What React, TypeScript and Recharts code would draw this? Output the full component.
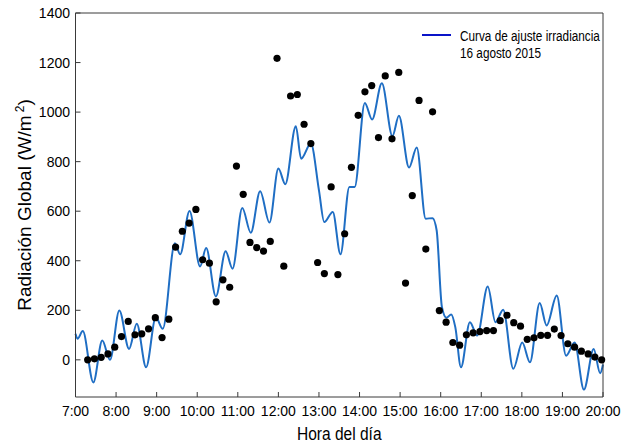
import { ComposedChart, Line, Scatter, XAxis, YAxis, Legend } from 'recharts';

// Irradiancia medida (W/m2), una lectura cada 10 minutos
const medTimes = [
  '7:18', '7:28', '7:38', '7:48', '7:58', '8:08', '8:18', '8:28', '8:38', '8:48',
  '8:58', '9:08', '9:18', '9:28', '9:38', '9:48', '9:58', '10:08', '10:18', '10:28',
  '10:38', '10:48', '10:58', '11:08', '11:18', '11:28', '11:38', '11:48', '11:58', '12:08',
  '12:18', '12:28', '12:38', '12:48', '12:58', '13:08', '13:18', '13:28', '13:38', '13:48',
  '13:58', '14:08', '14:18', '14:28', '14:38', '14:48', '14:58', '15:08', '15:18', '15:28',
  '15:38', '15:48', '15:58', '16:08', '16:18', '16:28', '16:38', '16:48', '16:58', '17:08',
  '17:18', '17:28', '17:38', '17:48', '17:58', '18:08', '18:18', '18:28', '18:38', '18:48',
  '18:58', '19:08', '19:18', '19:28', '19:38', '19:48', '19:58',
];
const medValues = [
  0, 4, 10, 24, 51, 94, 155, 101, 105, 125,
  170, 90, 164, 455, 519, 552, 607, 404, 390, 234,
  323, 293, 782, 668, 474, 453, 439, 478, 1217, 378,
  1065, 1071, 951, 873, 393, 348, 698, 344, 509, 777,
  987, 1082, 1107, 897, 1146, 892, 1160, 310, 663, 1047,
  447, 1001, 199, 152, 70, 59, 101, 109, 114, 118,
  118, 158, 180, 150, 136, 83, 89, 99, 99, 124,
  98, 65, 51, 35, 24, 11, 0,
];

// Curva de ajuste (hora decimal, W/m2)
const fitHours = [
  7.0, 7.05, 7.18, 7.44, 7.66, 7.85, 8.08, 8.32, 8.51, 8.74,
  8.98, 9.15, 9.45, 9.58, 9.81, 10.07, 10.22, 10.46, 10.7, 10.87,
  11.11, 11.32, 11.55, 11.78, 12.0, 12.17, 12.43, 12.56, 12.8, 13.0,
  13.13, 13.34, 13.53, 13.75, 13.88, 14.13, 14.31, 14.55, 14.81, 14.97,
  15.22, 15.41, 15.63, 15.8, 15.9, 16.03, 16.14, 16.26, 16.36, 16.5,
  16.72, 16.9, 17.16, 17.35, 17.54, 17.79, 18.01, 18.2, 18.44, 18.61,
  18.86, 19.09, 19.3, 19.53, 19.77, 19.93, 20.0,
];
const fitValues = [
  105, 85, 116, -91, 78, 0, 199, 44, 146, -30,
  172, 125, 471, 426, 601, 377, 451, 256, 438, 368,
  613, 513, 681, 554, 772, 709, 943, 812, 873, 684,
  556, 597, 426, 698, 698, 1037, 970, 1116, 903, 985,
  776, 857, 570, 572, 523, 213, 170, 183, 132, -30,
  152, 98, 296, 152, 202, -36, 70, -10, 229, 139,
  260, 17, 70, -120, 44, -54, -19,
];

const hourTicks = [7, 8, 9, 10, 11, 12, 13, 14, 15, 16, 17, 18, 19, 20];
const radTicks = [0, 200, 400, 600, 800, 1000, 1200, 1400];

const toHours = (s: string) => {
  const [h, m] = s.split(':').map(Number);
  return h + m / 60;
};

const medData = medTimes.map((s, i) => ({ t: toHours(s), v: medValues[i] }));
const fitData = fitHours.map((t, i) => ({ t, v: fitValues[i] }));

const AXIS = '#3a3a3a';
const SANS = "'Liberation Sans', Arial, sans-serif";
const CURVE = '#1f6ec4';
// no hay Arial Narrow: se estrecha la fuente a mano
const NARROW_X = 0.84;

const XTitle = (props: any) => {
  const vb = props.viewBox;
  const cx = vb.x + vb.width / 2;
  const y = vb.y + 43;
  return (
    <text
      transform={`translate(${cx}, ${y}) scale(${NARROW_X}, 1)`}
      textAnchor="middle"
      fontSize={18.5}
      fontFamily={SANS}
      fill="#000"
    >
      Hora del día
    </text>
  );
};

const YTitle = (props: any) => {
  const vb = props.viewBox;
  const cx = 31;
  const cy = vb.y + vb.height / 2;
  return (
    <text x={cx} y={cy} transform={`rotate(-90, ${cx}, ${cy})`} textAnchor="middle" fontSize={19} fontFamily={SANS} fill="#000">
      Radiación Global (W/m<tspan dy={-7} fontSize={12}> 2</tspan><tspan dy={7}>)</tspan>
    </text>
  );
};

const LegendBox = () => (
  <div style={{ display: 'flex', alignItems: 'flex-start', fontFamily: SANS, fontSize: 14, lineHeight: '17px', color: '#000' }}>
    <svg width={33} height={14} style={{ flexShrink: 0 }}>
      <line x1={2} x2={31} y1={7} y2={7} stroke="#0a14c8" strokeWidth={2} />
    </svg>
    <div style={{ marginLeft: 7, whiteSpace: 'nowrap', transform: `scaleX(${NARROW_X})`, transformOrigin: 'left top' }}>
      <div>Curva de ajuste irradiancia</div>
      <div>16 agosto 2015</div>
    </div>
  </div>
);

const MedDot = (p: any) => <circle cx={p.cx} cy={p.cy} r={3.6} fill="#000" />;

export default function App() {
  return (
    <div style={{ position: 'absolute', left: 0, top: 0, width: 627, height: 444, background: '#fff' }}>
      <ComposedChart width={627} height={444} margin={{ top: 12, right: 23, bottom: 0, left: 0 }}>
        <XAxis
          xAxisId="top"
          orientation="top"
          type="number"
          dataKey="t"
          domain={[7, 20]}
          ticks={hourTicks}
          tick={false}
          tickSize={-5}
          height={1}
          stroke={AXIS}
        />
        <XAxis
          type="number"
          dataKey="t"
          domain={[7, 20]}
          ticks={hourTicks}
          interval={0}
          tickFormatter={(h: number) => `${h}:00`}
          tickSize={-5}
          tickMargin={14}
          height={47}
          stroke={AXIS}
          tick={{ fill: '#000', fontSize: 14, fontFamily: SANS }}
          label={XTitle}
        />
        <YAxis
          type="number"
          domain={[-150, 1400]}
          ticks={radTicks}
          interval={0}
          tickSize={-5}
          tickMargin={10.5}
          width={75.5}
          stroke={AXIS}
          tick={{ fill: '#000', fontSize: 14, fontFamily: SANS }}
          label={YTitle}
        />
        <YAxis
          yAxisId="right"
          orientation="right"
          type="number"
          domain={[-150, 1400]}
          ticks={radTicks}
          tick={false}
          tickSize={-5}
          width={1}
          stroke={AXIS}
        />
        <Line
          data={fitData}
          dataKey="v"
          type="monotone"
          stroke={CURVE}
          strokeWidth={2}
          dot={false}
          activeDot={false}
          isAnimationActive={false}
        />
        <Scatter data={medData} dataKey="v" shape={MedDot} isAnimationActive={false} />
        <Legend
          layout="horizontal"
          verticalAlign="middle"
          align="center"
          content={LegendBox}
          wrapperStyle={{ top: 28, left: 420, width: 200 }}
        />
      </ComposedChart>
    </div>
  );
}
